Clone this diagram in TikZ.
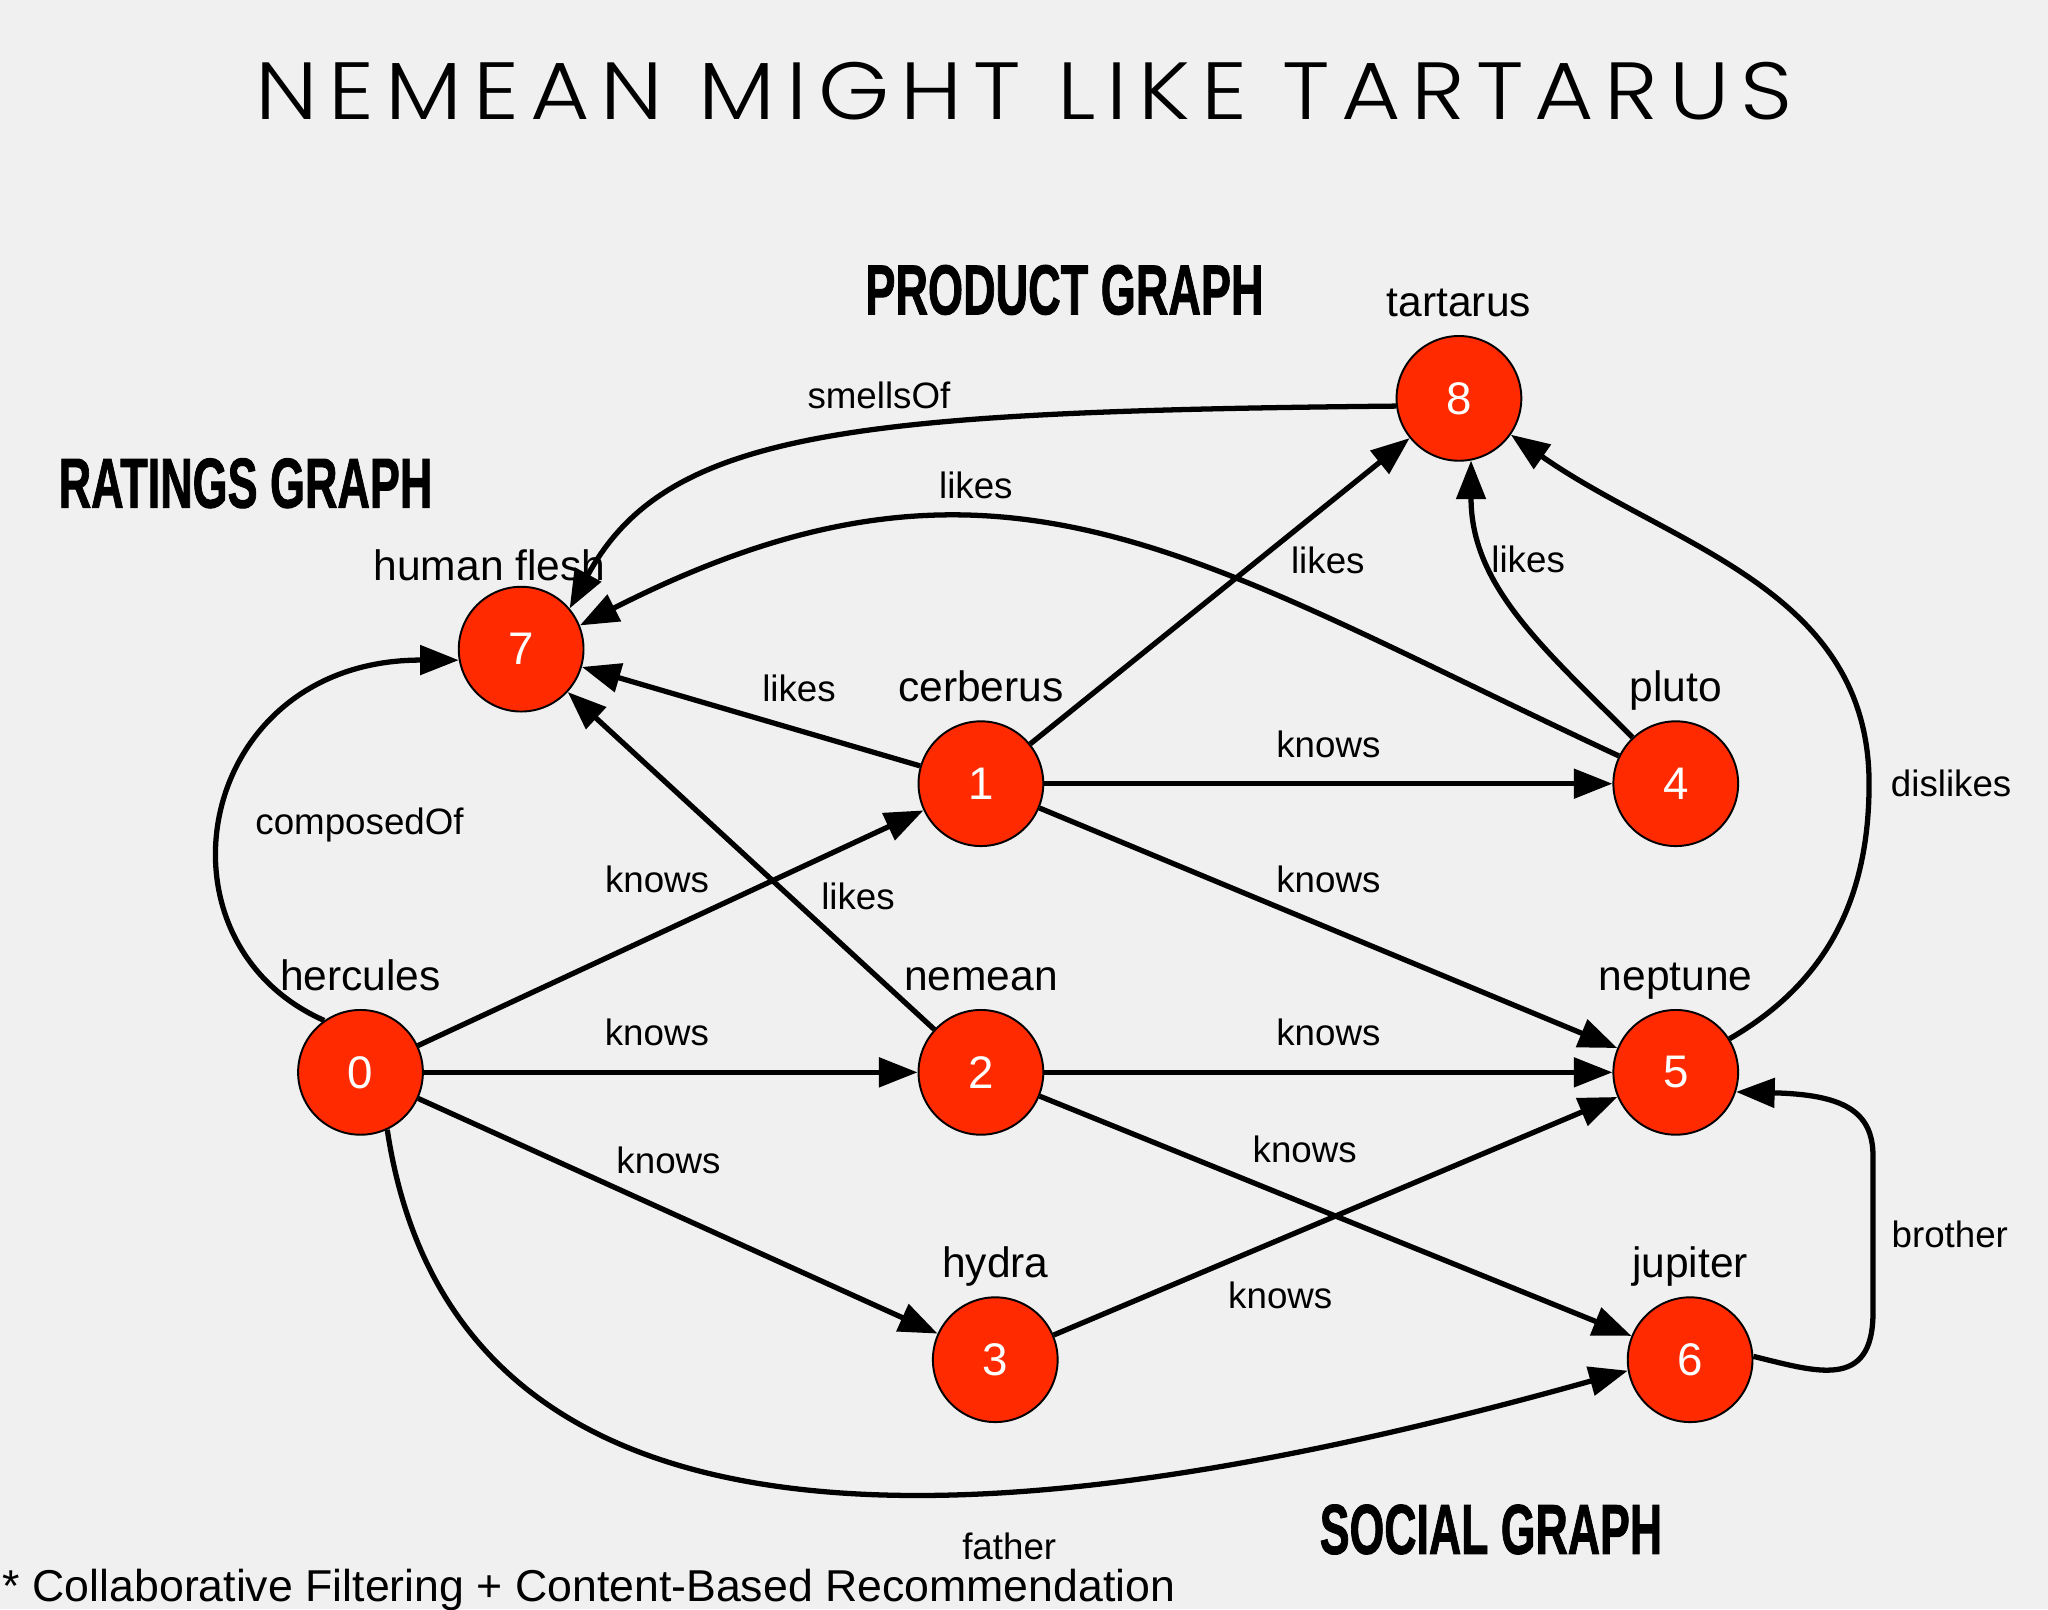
\documentclass[tikz,border=0pt]{standalone}
\usepackage{graphicx}
\usepackage{fontspec}
\setmainfont{Liberation Sans}
\newfontfamily\headfont[BoldFeatures={FakeBold=1.5}]{Liberation Sans}
\IfFontExistsTF{Poppins Light}
  {\newfontfamily\titlefont[LetterSpace=12]{Poppins Light}}
  {\newfontfamily\titlefont[LetterSpace=12]{Liberation Sans}}
\usetikzlibrary{arrows.meta}
\definecolor{nodered}{HTML}{FF2A00}
\definecolor{paper}{HTML}{F0F0F0}

\begin{document}
\begin{tikzpicture}[%
        x=0.026122cm, y=0.026122cm,
        >={Triangle[length=22pt,width=16.5pt]},
        thing/.style={circle, draw=black, line width=1.1pt, fill=nodered, text=white,
            minimum size=71pt, inner sep=0pt, font=\fontsize{26}{30}\selectfont},
        rel/.style={line width=3pt},
        tag/.style={font=\fontsize{20.9}{24}\selectfont, inner sep=0pt},
        every label/.style={font=\fontsize{24.2}{28}\selectfont, inner sep=0pt, text depth=0pt},
        label distance=10.3pt,
        graphname/.style={font=\headfont\bfseries, inner sep=0pt}
        ]

        \fill[paper] (0,0) rectangle (1568,-1232);
        \useasboundingbox (0,0) rectangle (1568,-1232);

        \node[inner sep=0pt] (title) at (784,-70) {\resizebox{875pt}{32.6pt}{\titlefont NEMEAN MIGHT LIKE TARTARUS}};

        \node[graphname] (ratings) at (188,-370) {\resizebox{212.6pt}{28pt}{RATINGS GRAPH}};
        \node[graphname] (product) at (815,-222) {\resizebox{226.6pt}{28pt}{PRODUCT GRAPH}};
        \node[graphname] (social) at (1141.5,-1171) {\resizebox{194.8pt}{28pt}{SOCIAL GRAPH}};

        \node[thing, label=above:hercules] (hercules) at (276,-821) {0};
        \node[thing, label=above:cerberus] (cerberus) at (751,-600) {1};
        \node[thing, label=above:nemean] (nemean) at (751,-821) {2};
        \node[thing, label=above:hydra] (hydra) at (762,-1041) {3};
        \node[thing, label=above:pluto] (pluto) at (1283,-600) {4};
        \node[thing, label=above:neptune] (neptune) at (1283,-821) {5};
        \node[thing, label=above:jupiter] (jupiter) at (1294,-1041) {6};
        \node[thing, label={[xshift=-18pt, yshift=-7.4pt]above:human flesh}] (flesh) at (399,-497) {7};
        \node[thing, label=above:tartarus] (tartarus) at (1117,-305) {8};

        \path[->, rel]
            (hercules) edge node[tag, pos=.473, yshift=31.4pt] {knows} (cerberus)
            (hercules) edge node[tag, pos=.472, yshift=23pt] {knows} (nemean)
            (hercules) edge node[tag, pos=.482, yshift=29.5pt] {knows} (hydra)
            (cerberus) edge node[tag, pos=.5, yshift=22.2pt] {knows} (pluto)
            (cerberus) edge node[tag, pos=.5, yshift=27.8pt] {knows} (neptune)
            (nemean) edge node[tag, pos=.5, yshift=23pt] {knows} (neptune)
            (nemean) edge node[tag, pos=.448, yshift=30.7pt] {knows} (jupiter)
            (hydra) edge node[tag, pos=.402, yshift=-31.8pt] {knows} (neptune)
            (cerberus) edge node[tag, pos=.6, xshift=39.8pt] {likes} (tartarus)
            (cerberus) edge node[tag, pos=.358, yshift=23.9pt] {likes} (flesh)
            (nemean) edge node[tag, pos=.294, xshift=17.9pt, yshift=19.4pt] {likes} (flesh)
            (pluto.154) edge[out=155, in=27, looseness=1.15] node[tag, pos=.63, yshift=19.8pt] {likes} (flesh.22)
            (pluto.133) edge[out=135, in=-90] node[tag, pos=.7, xshift=22.2pt] {likes} (tartarus.-79);

        \draw[->, rel] (tartarus.187) .. controls (650,-315) and (510,-330) .. (flesh.40)
            node[tag, pos=.42, yshift=20pt] {smellsOf};
        \draw[->, rel] (hercules.125) .. controls (110,-720) and (150,-505) .. (flesh.190)
            node[tag, pos=.47, xshift=78.5pt] {composedOf};
        \draw[->, rel] (hercules.-65) .. controls (350,-1220) and (780,-1180) .. (jupiter.190)
            node[tag, pos=.64, yshift=-31.6pt] {father};
        \draw[->, rel] (neptune.32) to[out=30, in=-90] (1431,-600)
            node[tag, xshift=46.7pt] {dislikes} to[out=90, in=-35] (tartarus.-35);
        \draw[->, rel] (jupiter.3) .. controls (1390,-1050) and (1434,-1065) .. (1434,-1005)
            -- (1434,-885) node[tag, pos=.5, xshift=43.7pt] {brother}
            .. controls (1434,-850) and (1410,-838) .. (neptune.-18);

        \node[anchor=base west, inner sep=0pt, font=\fontsize{25.4}{30}\selectfont] (footnote) at (2,-1226)
            {* Collaborative Filtering + Content-Based Recommendation};

\end{tikzpicture}
\end{document}
